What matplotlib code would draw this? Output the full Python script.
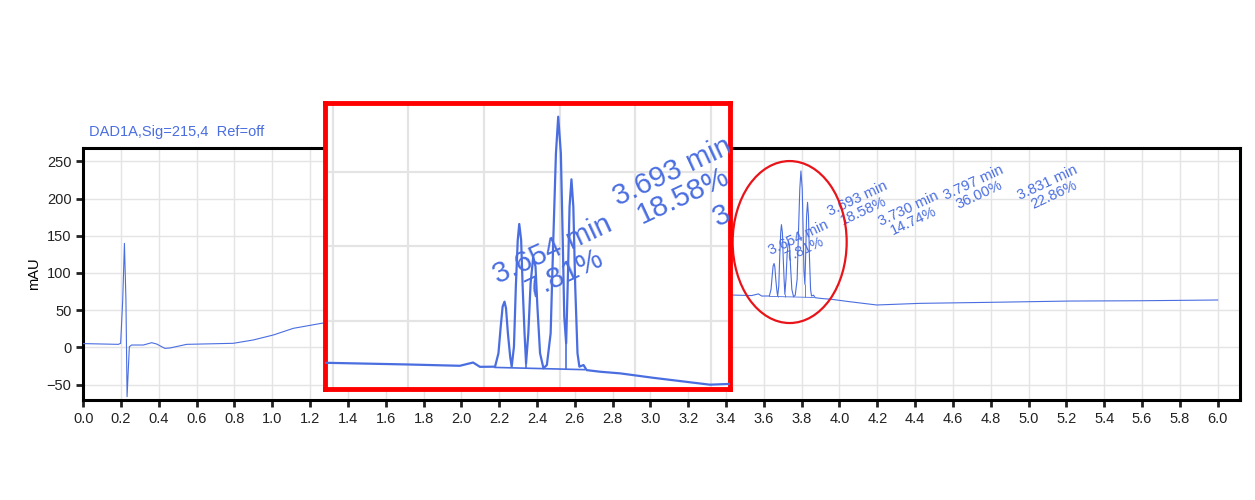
import numpy as np
import matplotlib
matplotlib.use("Agg")
import matplotlib.pyplot as plt
from matplotlib.patches import Ellipse

plt.rcParams["font.family"] = ["Liberation Sans", "DejaVu Sans"]

BLUE = "#4a6ee0"

# chromatogram trace (min, mAU)
time_min = [
    0.0, 0.186, 0.198, 0.209, 0.218, 0.226, 0.232, 0.244, 0.256, 0.318,
    0.362, 0.388, 0.432, 0.459, 0.547, 0.794, 0.900, 1.006, 1.111, 1.261,
    1.6, 2.0, 2.6, 3.0, 3.184, 3.395, 3.536, 3.571, 3.589, 3.629,
    3.638, 3.644, 3.649, 3.654, 3.658, 3.663, 3.669, 3.673,
    3.679, 3.684, 3.689, 3.693, 3.698, 3.702, 3.707, 3.711,
    3.717, 3.723, 3.730, 3.736, 3.741, 3.748, 3.757, 3.766,
    3.776, 3.783, 3.790, 3.796, 3.803, 3.808, 3.812, 3.817,
    3.821, 3.826, 3.831, 3.836, 3.841, 3.847, 3.852,
    3.863, 3.871, 3.907, 3.960, 4.048, 4.197, 4.426, 4.778, 5.219, 5.589, 6.0,
]
signal_mau = [
    5.0, 4.0, 5.4, 63.5, 139.7, 63.5, -66.4, 0.8, 3.1, 3.1,
    6.2, 4.5, -1.4, -0.9, 4.0, 5.4, 9.9, 16.6, 25.5, 32.3,
    45.0, 58.0, 66.0, 70.0, 71.6, 70.5, 69.6, 71.8, 68.9, 69.0,
    78.0, 95.9, 109.3, 112.7, 108.2, 91.4, 75.7, 69.0,
    82.5, 122.8, 154.1, 164.9, 154.1, 122.8, 91.4, 71.2,
    91.4, 125.0, 143.0, 136.2, 109.3, 78.0, 67.9, 70.1,
    91.4, 154.1, 212.4, 237.0, 212.4, 154.1, 102.6, 84.7,
    122.8, 176.5, 194.9, 176.5, 122.8, 78.0, 69.0,
    70.1, 66.7, 65.6, 64.5, 61.5, 56.9, 59.1, 60.4, 62.2, 62.6, 63.6,
]

# integration: baseline end points and drop lines at the valleys
baseline_t = [3.629, 3.865]
baseline_v = [68.5, 67.0]
drop_t = [3.673, 3.711, 3.757, 3.817]
drop_v = [69.0, 71.2, 67.9, 84.7]

peak_times = [3.654, 3.693, 3.730, 3.797, 3.831]
peak_area_pct = [7.81, 18.58, 14.74, 36.00, 22.86]
label_x = [3.797, 4.112, 4.378, 4.722, 5.117]
label_y = [139.5, 192.0, 177.8, 213.4, 213.4]


def draw_trace(ax, scale, clip):
    ax.plot(time_min, signal_mau, color=BLUE, lw=0.8 * scale, zorder=3)
    ax.plot(baseline_t, baseline_v, color=BLUE, lw=0.6 * scale, zorder=3)
    base_at_drop = np.interp(drop_t, baseline_t, baseline_v)
    ax.vlines(drop_t, base_at_drop, drop_v, color=BLUE, lw=0.6 * scale, zorder=3)
    for t, pct, lx, ly in zip(peak_times, peak_area_pct, label_x, label_y):
        ax.text(lx, ly, f"{t:.3f} min\n{pct:.2f}%", color=BLUE, fontsize=10.5 * scale,
                rotation=25, rotation_mode="anchor", ha="center", va="center",
                multialignment="center", linespacing=0.95, clip_on=clip, zorder=4)


fig = plt.figure(figsize=(12.55, 5.0), dpi=100)
ax = fig.add_axes([0.0663, 0.2, 0.9880 - 0.0663, 0.7034 - 0.2])

draw_trace(ax, 1.0, False)
ax.set_xlim(0.0, 6.118)
ax.set_ylim(-70.8, 267.5)
ax.set_xticks(np.arange(0, 6.01, 0.2))
ax.set_xticklabels([f"{v:.1f}" for v in np.arange(0, 6.01, 0.2)])
ax.set_yticks([-50, 0, 50, 100, 150, 200, 250])
ax.tick_params(direction="out", length=5, width=2, labelsize=10.5, colors="#222222")
ax.grid(True, color="#e4e4e4", lw=1.0)
ax.set_axisbelow(True)
for s in ax.spines.values():
    s.set_linewidth(2.2)
    s.set_color("black")
ax.set_ylabel("mAU", fontsize=10.5, labelpad=4)
ax.text(0.005, 1.035, "DAD1A,Sig=215,4  Ref=off", transform=ax.transAxes,
        color=BLUE, fontsize=10.5, ha="left", va="bottom")

ax.add_patch(Ellipse((3.7365, 141.5), 0.603, 217.7, fill=False,
                     edgecolor="#e8141a", lw=1.6, zorder=5))

# magnified view, 2x
axin = fig.add_axes([0.2592, 0.222, 0.5817 - 0.2592, 0.7934 - 0.222])
axin.set_facecolor("white")
draw_trace(axin, 2.0, True)
axin.set_xlim(3.1802, 4.2503)
axin.set_ylim(54.0, 246.0)
axin.set_xticks(np.arange(3.2, 4.21, 0.2))
axin.set_yticks([100, 150, 200])
axin.tick_params(length=0, labelbottom=False, labelleft=False)
axin.grid(True, color="#e4e4e4", lw=1.6)
axin.set_axisbelow(True)
for s in axin.spines.values():
    s.set_linewidth(3.5)
    s.set_color("#ff0000")

fig.savefig("out.png", dpi=100, facecolor="white")
